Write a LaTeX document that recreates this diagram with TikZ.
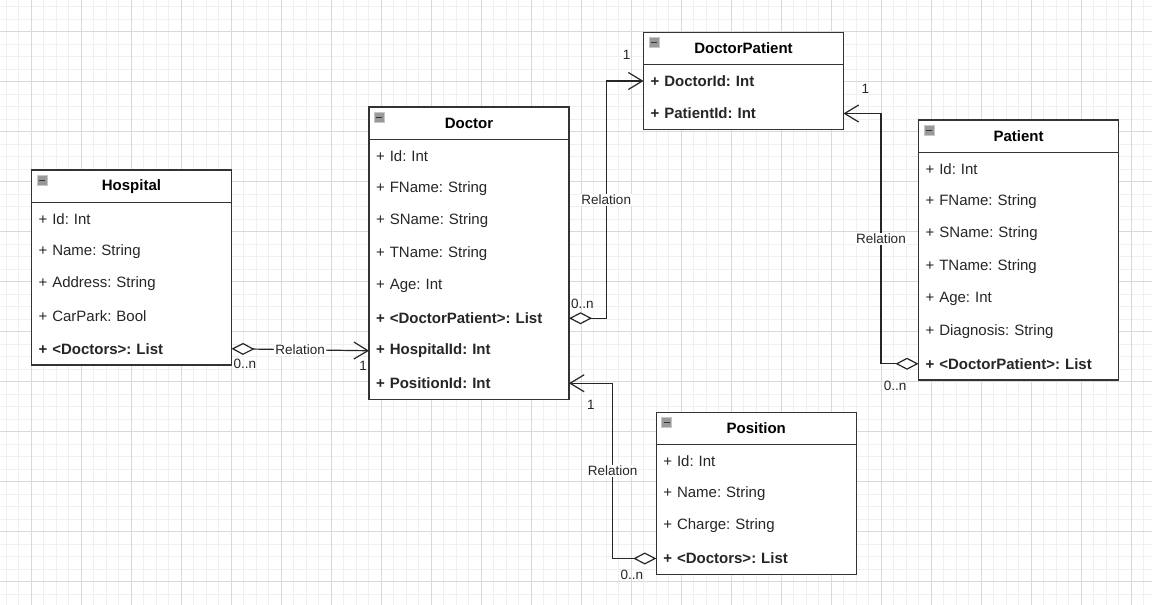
\documentclass[tikz,border=0pt]{standalone}
\usepackage{fontspec}
\setmainfont{Liberation Sans}
\frenchspacing
\usetikzlibrary{positioning,calc,fit,arrows.meta}

\begin{document}
\begin{tikzpicture}[x=1pt,y=-1pt,
    minorgrid/.style={draw=black!6, line width=0.6pt},
    majorgrid/.style={draw=black!15, line width=0.6pt},
    header/.style={draw=black!80, fill=white, line width=1.3pt, outer sep=0pt,
      minimum width=200pt, minimum height=32.5pt, inner sep=0pt,
      font=\fontsize{15}{18}\selectfont\bfseries},
    attr/.style={anchor=north, fill=white, text width=186pt, inner xsep=7pt,
      inner ysep=0pt, outer sep=0pt, minimum height=32.5pt, align=left,
      text=black!85, font=\fontsize{15}{18}\selectfont},
    frame/.style={draw=black!80, line width=1.3pt, inner sep=0pt},
    icon/.style={anchor=north west, minimum size=10pt, inner sep=0pt,
      fill=black!40, draw=black!22, line width=0.6pt,
      path picture={\draw[black!80, line width=1.3pt]
        ([xshift=2pt]path picture bounding box.west) --
        ([xshift=-2pt]path picture bounding box.east);}},
    relation/.style={draw=black!85, line width=1.2pt,
      arrows={Diamond[open, fill=white, length=23pt, width=12pt]-Straight Barb[length=14pt, width=17pt]}},
    lbl/.style={font=\fontsize{13.5}{16}\selectfont, text=black!85, inner sep=1pt}]

  % background grid
  \useasboundingbox (0,0) rectangle (1152,605);
  \fill[white] (0,0) rectangle (1152,605);
  \foreach \k in {0,...,91} \draw[minorgrid] (6+12.5*\k,0) -- (6+12.5*\k,605);
  \foreach \k in {0,...,47} \draw[minorgrid] (0,6.7+12.5*\k) -- (1152,6.7+12.5*\k);
  \foreach \k in {0,...,22} \draw[majorgrid] (31+50*\k,0) -- (31+50*\k,605);
  \foreach \k in {0,...,11} \draw[majorgrid] (0,31.7+50*\k) -- (1152,31.7+50*\k);

  % Hospital
  \node[header] (hospital) at (131.5,186.25) {Hospital};
  \foreach \t [count=\i] in {+ Id: Int, + Name: String, + Address: String,
      + CarPark: Bool, \textbf{+ <Doctors>: List}}
    \node[attr] (hospital-\i) at ([yshift=-32.5pt*(\i-1)]hospital.south) {\t};
  \node[frame, fit=(hospital)(hospital-5)] (hospital-box) {};
  \node[icon] (hospital-icon) at ([xshift=5pt,yshift=-5pt]hospital.north west) {};

  % Doctor
  \node[header] (doctor) at (469,123.25) {Doctor};
  \foreach \t [count=\i] in {+ Id: Int, + FName: String, + SName: String,
      + TName: String, + Age: Int, \textbf{+ <DoctorPatient>: List},
      \textbf{+ HospitalId: Int}, \textbf{+ PositionId: Int}}
    \node[attr] (doctor-\i) at ([yshift=-32.5pt*(\i-1)]doctor.south) {\t};
  \node[frame, fit=(doctor)(doctor-8)] (doctor-box) {};
  \node[icon] (doctor-icon) at ([xshift=5pt,yshift=-5pt]doctor.north west) {};

  % DoctorPatient
  \node[header] (dp) at (743.5,48.5) {DoctorPatient};
  \foreach \t [count=\i] in {\textbf{+ DoctorId: Int}, \textbf{+ PatientId: Int}}
    \node[attr] (dp-\i) at ([yshift=-32.5pt*(\i-1)]dp.south) {\t};
  \node[frame, fit=(dp)(dp-2)] (dp-box) {};
  \node[icon] (dp-icon) at ([xshift=5pt,yshift=-5pt]dp.north west) {};

  % Patient
  \node[header] (patient) at (1018.5,136.25) {Patient};
  \foreach \t [count=\i] in {+ Id: Int, + FName: String, + SName: String,
      + TName: String, + Age: Int, + Diagnosis: String,
      \textbf{+ <DoctorPatient>: List}}
    \node[attr] (patient-\i) at ([yshift=-32.5pt*(\i-1)]patient.south) {\t};
  \node[frame, fit=(patient)(patient-7)] (patient-box) {};
  \node[icon] (patient-icon) at ([xshift=5pt,yshift=-5pt]patient.north west) {};

  % Position
  \node[header] (position) at (756.3,428.5) {Position};
  \foreach \t [count=\i] in {+ Id: Int, + Name: String, + Charge: String,
      \textbf{+ <Doctors>: List}}
    \node[attr] (position-\i) at ([yshift=-32.5pt*(\i-1)]position.south) {\t};
  \node[frame, fit=(position)(position-4)] (position-box) {};
  \node[icon] (position-icon) at ([xshift=5pt,yshift=-5pt]position.north west) {};

  % relations
  \draw[relation] (hospital-5.east) -- (doctor-7.west)
    node[lbl, fill=white, pos=0.5] (rel-hd) {Relation};
  \node[lbl, anchor=west] (hd-many) at ([xshift=1pt,yshift=-15pt]hospital-5.east) {0..n};
  \node[lbl, anchor=east] (hd-one) at ([xshift=-1pt,yshift=-15pt]doctor-7.west) {1};

  \draw[relation] (doctor-6.east) -| ($(doctor-6.east)!.5!(dp-1.west)$)
    node[lbl, fill=white] (rel-ddp) {Relation} |- (dp-1.west);
  \node[lbl, anchor=west] (ddp-many) at ([xshift=1pt,yshift=14pt]doctor-6.east) {0..n};
  \node[lbl, anchor=east] (ddp-one) at ([xshift=-12pt,yshift=26pt]dp-1.west) {1};

  \draw[relation] (patient-7.west) -| ($(patient-7.west)!.5!(dp-2.east)$)
    node[lbl, fill=white] (rel-pdp) {Relation} |- (dp-2.east);
  \node[lbl, anchor=east] (pdp-many) at ([xshift=-11pt,yshift=-22pt]patient-7.west) {0..n};
  \node[lbl, anchor=west] (pdp-one) at ([xshift=17pt,yshift=25pt]dp-2.east) {1};

  \draw[relation] (position-4.west) -| ($(position-4.west)!.5!(doctor-8.east)$)
    node[lbl, fill=white] (rel-pd) {Relation} |- (doctor-8.east);
  \node[lbl, anchor=east] (pd-many) at ([xshift=-12pt,yshift=-16pt]position-4.west) {0..n};
  \node[lbl, anchor=west] (pd-one) at ([xshift=17pt,yshift=-22pt]doctor-8.east) {1};
\end{tikzpicture}
\end{document}
